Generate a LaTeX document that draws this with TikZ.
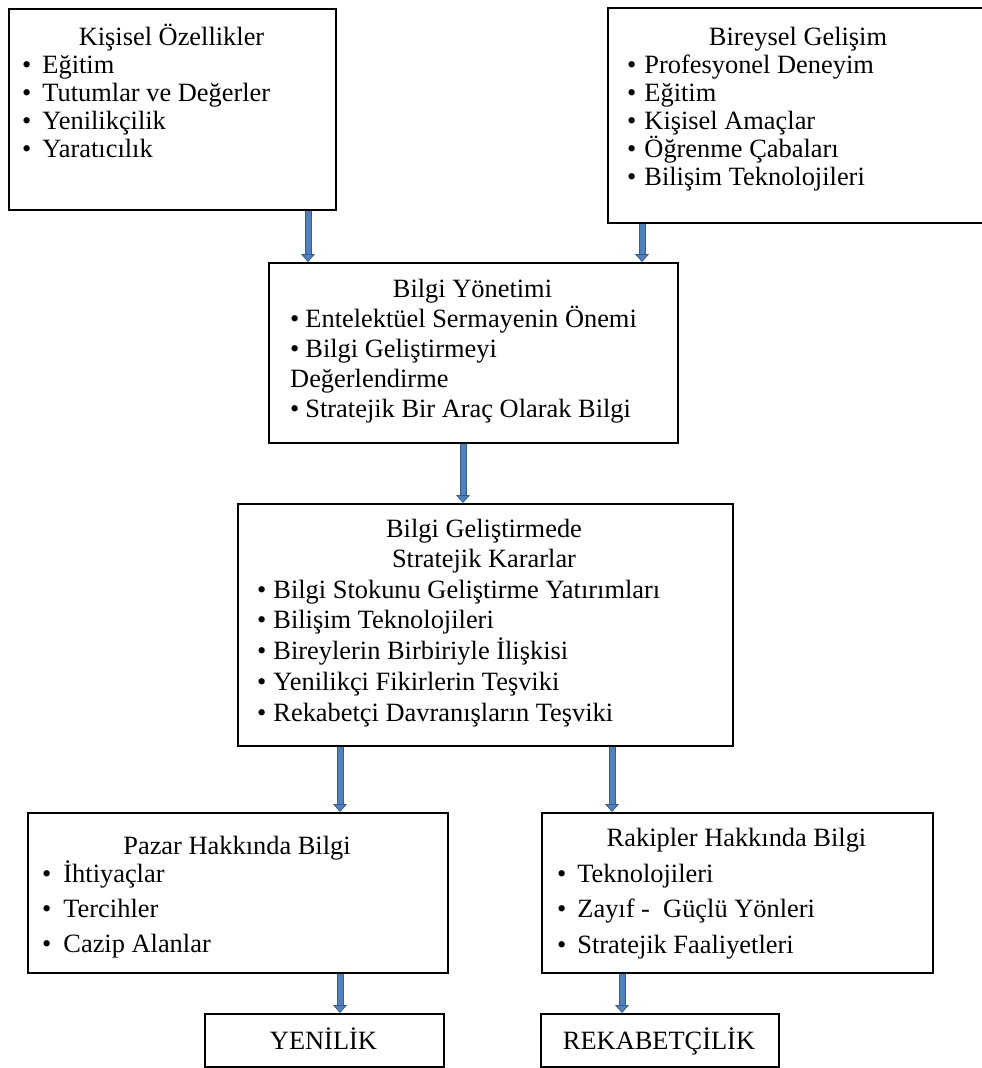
\documentclass[tikz,border=0pt]{standalone}
\usepackage{fontspec}
\setmainfont{Liberation Serif}
\usetikzlibrary{arrows.meta}
\definecolor{okDolgu}{RGB}{79,129,189}
\definecolor{okKenar}{RGB}{56,93,138}
\tikzset{
  kutu/.style={draw=black,fill=white,line width=1.8pt,inner sep=0pt,anchor=north west},
  baslik/.style={anchor=base,inner sep=0pt,font=\fontsize{26.4}{30}\selectfont},
  madde/.style={anchor=base west,inner sep=0pt,font=\fontsize{26.4}{30}\selectfont},
  blokOk/.style={draw=okDolgu,line width=5pt,
    -{Triangle[width=14pt,length=8pt,fill=okDolgu,color=okKenar,line width=0.8pt]},
    preaction={draw=okKenar,line width=7pt,arrows=-,shorten >=7pt}}
}

\begin{document}
\begin{tikzpicture}[x=1pt,y=-1pt]
  \useasboundingbox (0,0) rectangle (982,1068);
  % kutular
  \node[kutu,minimum width=327pt,minimum height=201pt] (kisisel) at (8,8) {};
  \node[kutu,minimum width=382pt,minimum height=215pt] (bireysel) at (607,7) {};
  \node[kutu,minimum width=409pt,minimum height=180pt] (bilgiYon) at (268,262) {};
  \node[kutu,minimum width=495pt,minimum height=242pt] (stratejik) at (237,503) {};
  \node[kutu,minimum width=420pt,minimum height=160pt] (pazar) at (27,812) {};
  \node[kutu,minimum width=391pt,minimum height=160pt] (rakip) at (541,812) {};
  \node[kutu,minimum width=239pt,minimum height=53pt] (yenilik) at (204,1013) {};
  \node[kutu,minimum width=238pt,minimum height=53pt] (rekabet) at (540,1013) {};

  % Kisisel Ozellikler
  \node[baslik] (kisiselB) at (171.5,45) {Kişisel Özellikler};
  \foreach \t [count=\i] in {Eğitim, Tutumlar ve Değerler, Yenilikçilik, Yaratıcılık}
    \node[madde] (kisisel\i) at (22,{73+(\i-1)*28}) {\textbullet\hspace{11pt}\t};

  % Bireysel Gelisim
  \node[baslik] (bireyselB) at (798,45) {Bireysel Gelişim};
  \foreach \t [count=\i] in {Profesyonel Deneyim, Eğitim, Kişisel Amaçlar, Öğrenme Çabaları, Bilişim Teknolojileri}
    \node[madde] (bireysel\i) at (627,{73+(\i-1)*28}) {\textbullet\hspace{8pt}\t};

  % Bilgi Yonetimi
  \node[baslik] (bilgiYonB) at (472.5,297) {Bilgi Yönetimi};
  \node[madde] (bilgiYon1) at (290,327) {\textbullet\hspace{6pt}Entelektüel Sermayenin Önemi};
  \node[madde] (bilgiYon2) at (290,357) {\textbullet\hspace{6pt}Bilgi Geliştirmeyi};
  \node[madde] (bilgiYon3) at (290,387) {Değerlendirme};
  \node[madde] (bilgiYon4) at (290,417) {\textbullet\hspace{6pt}Stratejik Bir Araç Olarak Bilgi};

  % Stratejik Kararlar
  \node[baslik] (stratejikB1) at (484,537) {Bilgi Geliştirmede};
  \node[baslik] (stratejikB2) at (484,567) {Stratejik Kararlar};
  \foreach \t [count=\i] in {Bilgi Stokunu Geliştirme Yatırımları, Bilişim Teknolojileri,
      Bireylerin Birbiriyle İlişkisi, Yenilikçi Fikirlerin Teşviki, Rekabetçi Davranışların Teşviki}
    \node[madde] (stratejik\i) at (257,{598+(\i-1)*30.75}) {\textbullet\hspace{7pt}\t};

  % Pazar / Rakipler
  \node[baslik] (pazarB) at (237,854) {Pazar Hakkında Bilgi};
  \foreach \t [count=\i] in {İhtiyaçlar, Tercihler, Cazip Alanlar}
    \node[madde] (pazar\i) at (42,{882+(\i-1)*35}) {\textbullet\hspace{12pt}\t};
  \node[baslik] (rakipB) at (736.5,846) {Rakipler Hakkında Bilgi};
  \foreach \t [count=\i] in {Teknolojileri, Zayıf -\ \ Güçlü Yönleri, Stratejik Faaliyetleri}
    \node[madde] (rakip\i) at (557,{882+(\i-1)*35.5}) {\textbullet\hspace{11pt}\t};

  % sonuc
  \node[baslik] (yenilikYazi) at (323.5,1049) {YENİLİK};
  \node[baslik] (rekabetYazi) at (659,1049) {REKABETÇİLİK};

  % oklar
  \coordinate (o1) at (308,0);
  \coordinate (o2) at (642,0);
  \coordinate (o3) at (463,0);
  \coordinate (o4) at (340,0);
  \coordinate (o5) at (612,0);
  \coordinate (o6) at (622,0);
  \draw[blokOk] (kisisel.south -| o1) -- (bilgiYon.north -| o1);
  \draw[blokOk] (bireysel.south -| o2) -- (bilgiYon.north -| o2);
  \draw[blokOk] (bilgiYon.south -| o3) -- (stratejik.north -| o3);
  \draw[blokOk] (stratejik.south -| o4) -- (pazar.north -| o4);
  \draw[blokOk] (stratejik.south -| o5) -- (rakip.north -| o5);
  \draw[blokOk] (pazar.south -| o4) -- (yenilik.north -| o4);
  \draw[blokOk] (rakip.south -| o6) -- (rekabet.north -| o6);
\end{tikzpicture}
\end{document}
